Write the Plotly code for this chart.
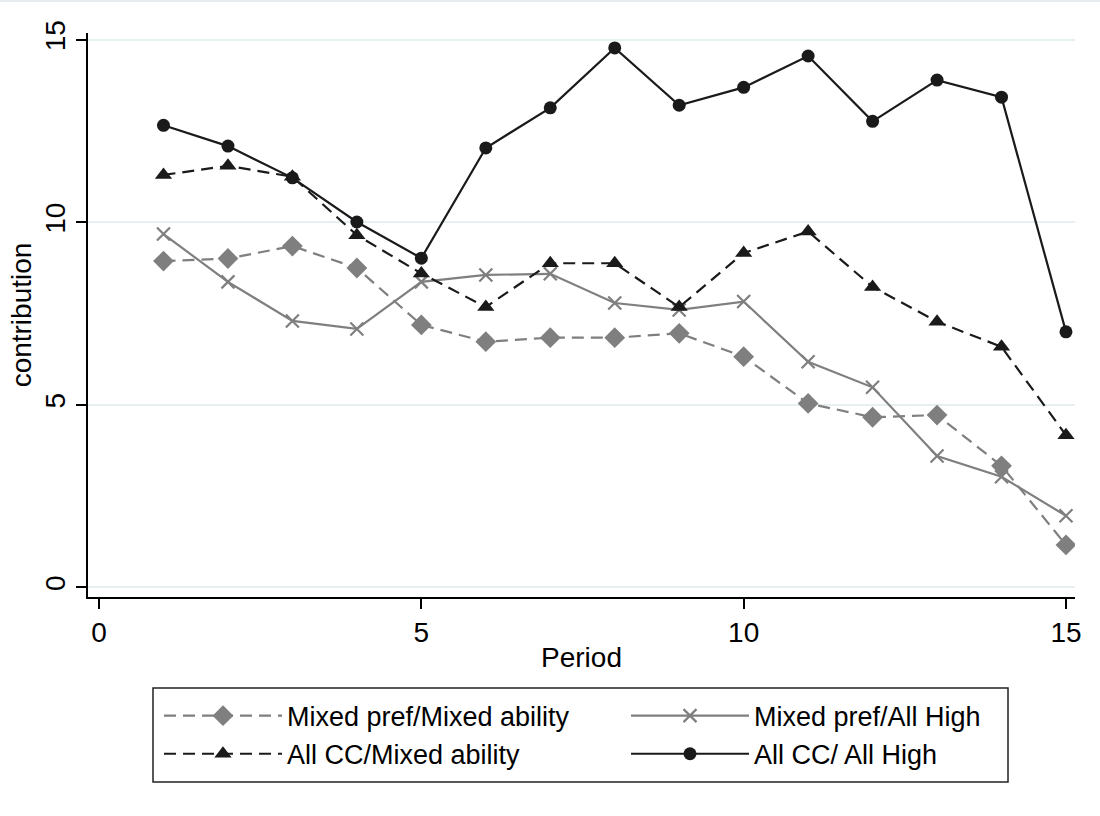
import plotly.graph_objects as go

periods = list(range(1, 16))

mixed_pref_mixed_ability = [8.94, 9.01, 9.35, 8.75, 7.19, 6.73, 6.84, 6.84, 6.96, 6.32, 5.04, 4.66, 4.72, 3.33, 1.16]
mixed_pref_all_high = [9.68, 8.37, 7.30, 7.08, 8.37, 8.56, 8.59, 7.79, 7.60, 7.83, 6.18, 5.48, 3.60, 3.03, 1.96]
all_cc_mixed_ability = [11.30, 11.55, 11.25, 9.65, 8.60, 7.68, 8.88, 8.88, 7.68, 9.16, 9.75, 8.23, 7.28, 6.59, 4.17]
all_cc_all_high = [12.66, 12.09, 11.22, 10.01, 9.02, 12.04, 13.14, 14.78, 13.21, 13.70, 14.56, 12.77, 13.90, 13.43, 7.00]

series_names = ["Mixed pref/Mixed ability", "Mixed pref/All High", "All CC/Mixed ability", "All CC/ All High"]
x_ticks = [0, 5, 10, 15]
y_ticks = [0, 5, 10, 15]

GRAY = "#7f7f7f"
BLACK = "#1a1a1a"
FONT = "Liberation Sans, Arial, sans-serif"

fig = go.Figure()

fig.add_trace(go.Scatter(
    x=periods, y=mixed_pref_mixed_ability, name=series_names[0], mode="lines+markers",
    line=dict(color=GRAY, width=2.2, dash="12px,7px"),
    marker=dict(symbol="diamond", size=16, color=GRAY),
    legend="legend",
))
fig.add_trace(go.Scatter(
    x=periods, y=mixed_pref_all_high, name=series_names[1], mode="lines+markers",
    line=dict(color=GRAY, width=2.2),
    marker=dict(symbol="x-thin", size=13, color=GRAY, line=dict(color=GRAY, width=2.2)),
    legend="legend2",
))
fig.add_trace(go.Scatter(
    x=periods, y=all_cc_mixed_ability, name=series_names[2], mode="lines+markers",
    line=dict(color=BLACK, width=2.2, dash="12px,7px"),
    marker=dict(symbol="triangle-up", size=15, color=BLACK),
    legend="legend",
))
fig.add_trace(go.Scatter(
    x=periods, y=all_cc_all_high, name=series_names[3], mode="lines+markers",
    line=dict(color=BLACK, width=2.2),
    marker=dict(symbol="circle", size=13, color=BLACK),
    legend="legend2",
))

legend_common = dict(
    orientation="v", yanchor="top", xanchor="left",
    itemwidth=118,
    font=dict(family=FONT, size=27, color="black"),
    bgcolor="rgba(0,0,0,0)", borderwidth=0, traceorder="normal",
    itemclick=False, itemdoubleclick=False,
)

fig.update_layout(
    width=1100, height=816,
    margin=dict(l=88, r=25, t=33, b=219, autoexpand=False),
    paper_bgcolor="white", plot_bgcolor="white",
    font=dict(family=FONT, size=28, color="black"),
    showlegend=True,
    legend=dict(x=(159 - 88) / 987, y=-0.1677, **legend_common),
    legend2=dict(x=(626 - 88) / 987, y=-0.1677, **legend_common),
    xaxis=dict(
        range=[-0.171, 15.14], tickvals=x_ticks, ticktext=[str(v) for v in x_ticks],
        showgrid=False, zeroline=False, showline=True, linecolor="black", linewidth=1.5,
        ticks="outside", ticklen=10, tickwidth=1.5, tickcolor="black",
        tickfont=dict(size=28), automargin=False,
        title=dict(text="Period", font=dict(size=28), standoff=0),
    ),
    yaxis=dict(
        range=[-0.266, 15.19], tickvals=y_ticks, ticktext=[str(v) for v in y_ticks],
        showgrid=True, gridcolor="#e6eff1", gridwidth=2, zeroline=False,
        showline=True, linecolor="black", linewidth=1.5,
        ticks="outside", ticklen=10, tickwidth=1.5, tickcolor="black",
        tickangle=-90, tickfont=dict(size=28), ticklabelstandoff=0, automargin=False,
        title=dict(text="contribution", font=dict(size=28), standoff=0),
    ),
    shapes=[
        dict(type="rect", xref="paper", yref="paper",
             x0=(153 - 88) / 987, x1=(1008 - 88) / 987,
             y0=(597 - 688) / 564, y1=(597 - 782) / 564,
             line=dict(color="#222222", width=1.5), fillcolor="rgba(0,0,0,0)"),
        dict(type="line", xref="paper", yref="paper",
             x0=-88 / 987, x1=1012 / 987, y0=596 / 564, y1=596 / 564,
             line=dict(color="#e6ecef", width=2)),
    ],
)

fig.write_html("out.html", config={"displayModeBar": False},
               post_script="document.body.style.margin = '0px';")
